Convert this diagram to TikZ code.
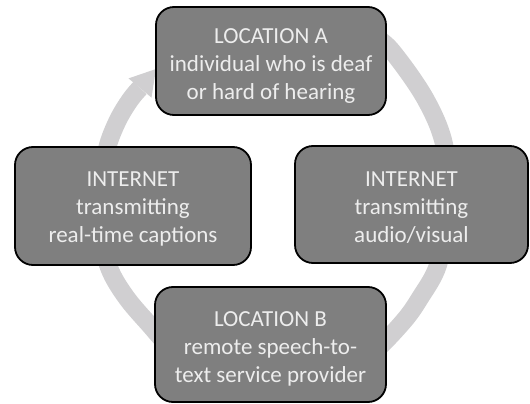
\documentclass[tikz,border=0pt]{standalone}
\usepackage{fontspec}
\setmainfont{Carlito}
\definecolor{boxfill}{HTML}{7F7F7F}
\definecolor{ringc}{HTML}{D0CFD1}
\definecolor{txtc}{HTML}{EDEDED}
\begin{document}
\begin{tikzpicture}[x=1pt,y=-1pt,
  box/.style={draw=black, line width=1.8pt, fill=boxfill, rounded corners=18pt, inner sep=0pt},
  txt/.style={text=txtc, align=center, font=\fontsize{23}{28}\selectfont, inner sep=0pt},
  ring/.style={draw=ringc, line width=18pt}]
\useasboundingbox (0,0) rectangle (530,404);
% ring
\draw[ring] plot[smooth, tension=0.6] coordinates {
  (350,25) (380,40) (399,60) (426,100) (443,140) (447,180) (445,220) (438,265)
  (420,298) (402,323) (370,355) (330,380) (274,392) (218,380) (178,355)
  (148,323) (126,297) (110,270) (102,240) (101,205) (104,170) (108,145)
  (118,120) (130,100) (140,88)};
\fill[ringc] (128.5,78.4) -- (156,69) -- (151.5,97.6) -- cycle;
% boxes
\node[box, minimum width=230pt, minimum height=108pt] (top) at (271,61) {};
\node[box, minimum width=236pt, minimum height=118pt] (left) at (133,206) {};
\node[box, minimum width=233pt, minimum height=117pt] (right) at (411.5,204.5) {};
\node[box, minimum width=231pt, minimum height=115pt] (bottom) at (270.5,344.5) {};
% texts
\node[txt] (topt) at (271,66.5) {LOCATION A\\individual who is deaf\\or hard of hearing};
\node[txt] (leftt) at (133,209) {INTERNET\\transmitting\\real-time captions};
\node[txt] (rightt) at (411.5,207.5) {INTERNET\\transmitting\\audio/visual};
\node[txt] (bottomt) at (270.5,348.5) {LOCATION B\\remote speech-to-\\text service provider};
\end{tikzpicture}
\end{document}
